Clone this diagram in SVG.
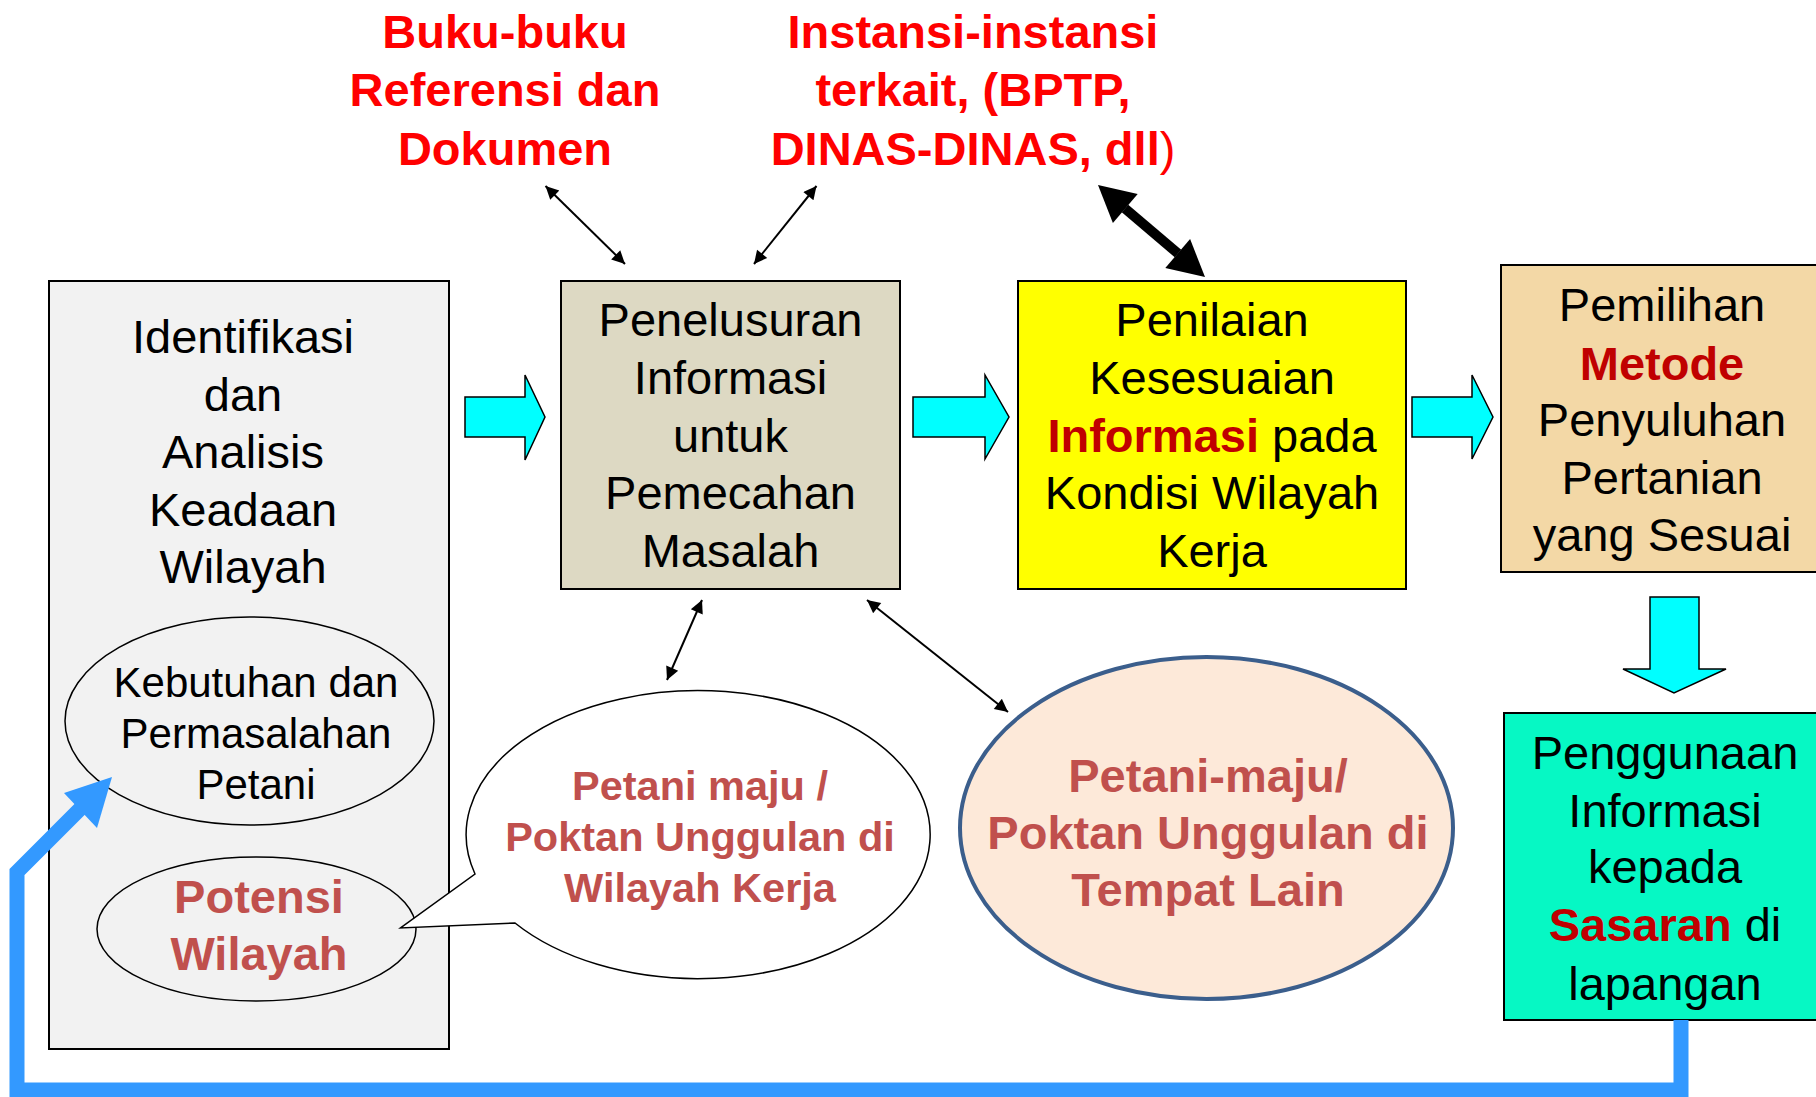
<svg xmlns="http://www.w3.org/2000/svg" width="1816" height="1097" viewBox="0 0 1816 1097">
<style>
text{font-family:"Liberation Sans",Arial,sans-serif;text-anchor:middle;fill:#000}
.t47{font-size:47px}
.top{font-size:47px;font-weight:bold;fill:#ff0000}
.dr{font-weight:bold;fill:#c00000}
.cr{font-weight:bold;fill:#c0504d}
.box{stroke:#000;stroke-width:2}
.blk{fill:#00ffff;stroke:#000;stroke-width:1.5}
.thin{stroke:#000;stroke-width:2;fill:none;marker-start:url(#ah);marker-end:url(#ah)}
</style>
<defs>
<marker id="ah" viewBox="0 0 10 10" refX="10" refY="5" markerWidth="18" markerHeight="13" markerUnits="userSpaceOnUse" orient="auto-start-reverse">
<path d="M0,0 L10,5 L0,10 z" fill="#000"/>
</marker>
</defs>
<rect width="1816" height="1097" fill="#fff"/>

<g id="labels-top">
<text class="top" x="505" y="48">Buku-buku</text>
<text class="top" x="505" y="106">Referensi dan</text>
<text class="top" x="505" y="165">Dokumen</text>
<text class="top" x="973" y="48">Instansi-instansi</text>
<text class="top" x="973" y="106">terkait, (BPTP,</text>
<text class="top" x="973" y="165">DINAS-DINAS, dll<tspan font-weight="normal">)</tspan></text>
</g>

<g id="node-identifikasi">
<rect class="box" x="49" y="281" width="400" height="768" fill="#f2f2f2"/>
<text class="t47" x="243" y="353">Identifikasi</text>
<text class="t47" x="243" y="411">dan</text>
<text class="t47" x="243" y="468">Analisis</text>
<text class="t47" x="243" y="526">Keadaan</text>
<text class="t47" x="243" y="583">Wilayah</text>
</g>

<g id="node-kebutuhan">
<ellipse cx="249.5" cy="721" rx="184.5" ry="104" fill="#f2f2f2" stroke="#000" stroke-width="1.5"/>
<text font-size="42" x="256" y="697">Kebutuhan dan</text>
<text font-size="42" x="256" y="748">Permasalahan</text>
<text font-size="42" x="256" y="799">Petani</text>
</g>

<g id="node-potensi">
<ellipse cx="256.5" cy="929" rx="159.5" ry="72" fill="#f2f2f2" stroke="#000" stroke-width="1.5"/>
<text class="cr" font-size="47" x="259" y="913">Potensi</text>
<text class="cr" font-size="47" x="259" y="970">Wilayah</text>
</g>

<g id="node-petani-wilayah">
<path d="M475,874 A232,144 0 1 1 515,923 L400.5,928 Z" fill="#fff" stroke="#000" stroke-width="1.5" stroke-linejoin="miter"/>
<text class="cr" font-size="41.5" x="700" y="800">Petani maju /</text>
<text class="cr" font-size="41.5" x="700" y="851">Poktan Unggulan di</text>
<text class="cr" font-size="41.5" x="700" y="902">Wilayah Kerja</text>
</g>

<g id="node-petani-lain">
<ellipse cx="1206.5" cy="828" rx="246.5" ry="171" fill="#fde9d9" stroke="#3b5e8c" stroke-width="4"/>
<text class="cr" font-size="47" x="1208" y="792">Petani-maju/</text>
<text class="cr" font-size="47" x="1208" y="849">Poktan Unggulan di</text>
<text class="cr" font-size="47" x="1208" y="906">Tempat Lain</text>
</g>

<g id="node-penelusuran">
<rect class="box" x="561" y="281" width="339" height="308" fill="#ddd9c3"/>
<text class="t47" x="730.5" y="336">Penelusuran</text>
<text class="t47" x="730.5" y="394">Informasi</text>
<text class="t47" x="730.5" y="452">untuk</text>
<text class="t47" x="730.5" y="509">Pemecahan</text>
<text class="t47" x="730.5" y="567">Masalah</text>
</g>

<g id="node-penilaian">
<rect class="box" x="1018" y="281" width="388" height="308" fill="#ffff00"/>
<text class="t47" x="1212" y="336">Penilaian</text>
<text class="t47" x="1212" y="394">Kesesuaian</text>
<text class="t47" x="1212" y="452"><tspan class="dr">Informasi</tspan> pada</text>
<text class="t47" x="1212" y="509">Kondisi Wilayah</text>
<text class="t47" x="1212" y="567">Kerja</text>
</g>

<g id="node-pemilihan">
<rect class="box" x="1501" y="265" width="322" height="307" fill="#f3d8a6"/>
<text class="t47" x="1662" y="321">Pemilihan</text>
<text class="t47 dr" x="1662" y="380">Metode</text>
<text class="t47" x="1662" y="436">Penyuluhan</text>
<text class="t47" x="1662" y="494">Pertanian</text>
<text class="t47" x="1662" y="551">yang Sesuai</text>
</g>

<g id="node-penggunaan">
<rect class="box" x="1504" y="713" width="322" height="307" fill="#06f8c4"/>
<text class="t47" x="1665" y="769">Penggunaan</text>
<text class="t47" x="1665" y="827">Informasi</text>
<text class="t47" x="1665" y="883">kepada</text>
<text class="t47" x="1665" y="941"><tspan class="dr">Sasaran</tspan> di</text>
<text class="t47" x="1665" y="1000">lapangan</text>
</g>

<g id="connectors">
<polygon class="blk" points="465,397 525,397 525,375 545,417 525,460 525,437 465,437"/>
<polygon class="blk" points="913,397 985,397 985,375 1009,417 985,459 985,437 913,437"/>
<polygon class="blk" points="1412,397 1472,397 1472,375 1493,417 1472,459 1472,437 1412,437"/>
<polygon class="blk" points="1650,597 1699,597 1699,669 1726,669 1674,693 1623,669 1650,669"/>

<line class="thin" x1="545.5" y1="186" x2="625" y2="264"/>
<line class="thin" x1="816.5" y1="186" x2="754" y2="264"/>
<line class="thin" x1="702" y1="600" x2="667" y2="680"/>
<line class="thin" x1="867" y1="600" x2="1008" y2="712"/>

<line x1="1125" y1="208.5" x2="1178" y2="253.5" stroke="#000" stroke-width="10"/>
<polygon points="1098,185 1112.9,222.9 1137.7,194.1" fill="#000"/>
<polygon points="1205,277 1165.3,267.9 1190.1,239.1" fill="#000"/>

<path d="M1681,1020 L1681,1090 L17,1090 L17,872 L84,805" fill="none" stroke="#3399ff" stroke-width="15" stroke-linejoin="miter"/>
<polygon points="112,777 64,793 97,828" fill="#3399ff"/>
</g>
</svg>
